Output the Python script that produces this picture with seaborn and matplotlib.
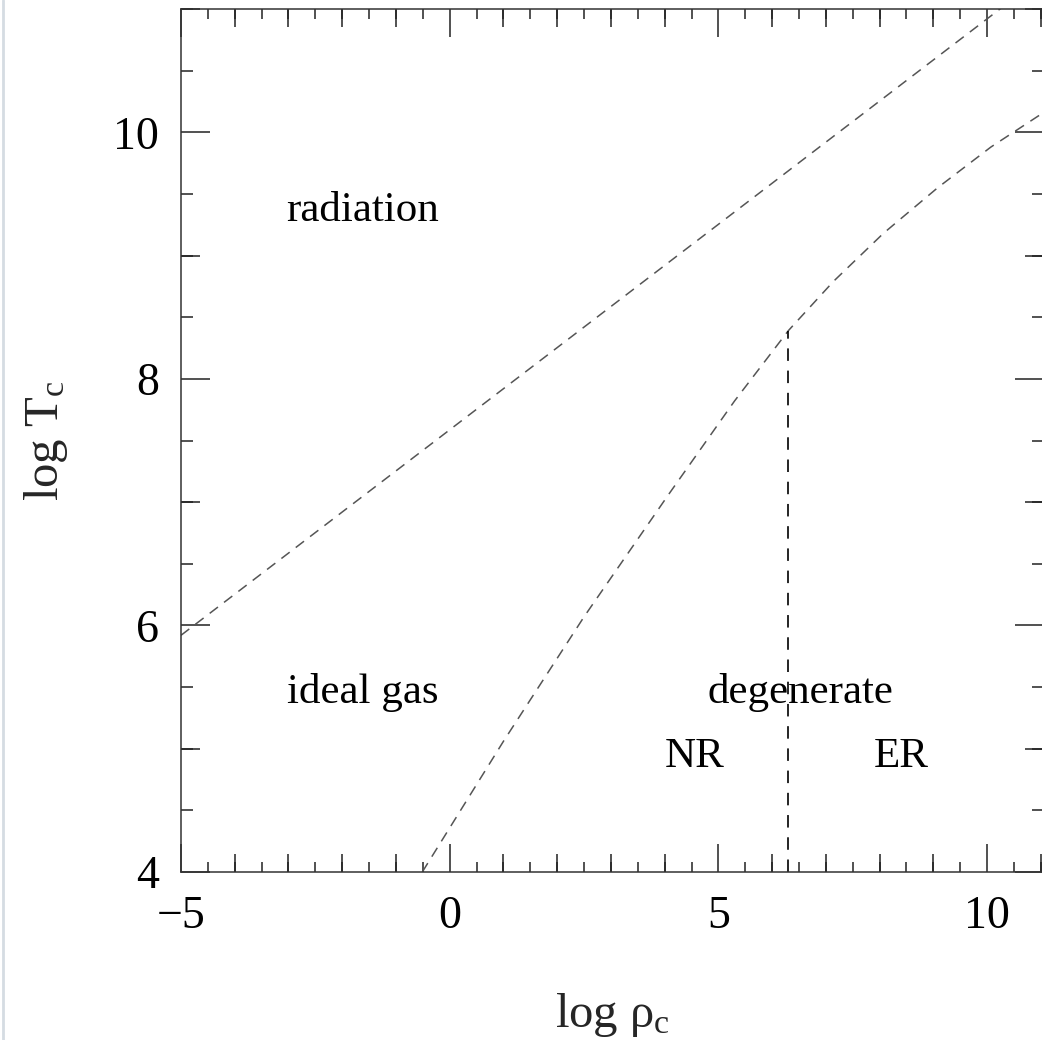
import matplotlib
matplotlib.use("Agg")
import matplotlib.pyplot as plt
from matplotlib.ticker import FixedLocator, MultipleLocator, NullFormatter
from matplotlib.lines import Line2D
import seaborn as sns

# Boundary between radiation- and gas-pressure domination (T^3 ~ rho)
rad_logrho = [-5.0, 11.05]
rad_logT = [5.92, 11.27]

# Boundary between ideal gas and degenerate electrons
deg_logrho = [-0.51, 1.0, 2.5, 4.07, 5.3, 6.30, 7.14, 8.07, 9.08, 10.07, 11.05]
deg_logT = [4.0, 5.06, 6.07, 7.06, 7.82, 8.39, 8.79, 9.18, 9.55, 9.88, 10.16]

# Split between non-relativistic and extremely relativistic degeneracy
nr_er_logrho = [6.30, 6.30]
nr_er_logT = [4.0, 8.39]

region_labels = ["radiation", "ideal gas", "degenerate", "NR", "ER"]
label_logrho = [-3.05, -3.03, 4.80, 4.00, 7.90]
label_logT = [9.28, 5.37, 5.37, 4.85, 4.85]

x_major = [-5, 0, 5, 10]
y_major = [4, 6, 8, 10]
x_mid = [v for v in range(-5, 12) if v % 5 != 0]
y_mid = [5, 7, 9, 11]

sns.set_theme(style="ticks")
plt.rcParams["font.family"] = ["Liberation Serif", "DejaVu Serif"]
plt.rcParams["mathtext.fontset"] = "custom"
plt.rcParams["mathtext.rm"] = "Liberation Serif"
plt.rcParams["mathtext.it"] = "Liberation Serif:italic"
plt.rcParams["lines.scale_dashes"] = False

fig = plt.figure(figsize=(10.42, 10.40), dpi=100)
ax = fig.add_axes([181 / 1042, 168 / 1040, (1043.5 - 181) / 1042, (872 - 9) / 1040])

gray = "#555555"
sns.lineplot(x=rad_logrho, y=rad_logT, ax=ax, color=gray, lw=1.1,
             estimator=None, sort=False)
sns.lineplot(x=deg_logrho, y=deg_logT, ax=ax, color=gray, lw=1.1,
             estimator=None, sort=False)
sns.lineplot(x=nr_er_logrho, y=nr_er_logT, ax=ax, color="black", lw=1.2,
             estimator=None, sort=False)
for ln in ax.lines[:2]:
    ln.set_dashes((7.5, 5.5))
ax.lines[2].set_dashes((9, 7))

for txt, xv, yv in zip(region_labels, label_logrho, label_logT):
    ax.text(xv, yv, txt, fontsize=31, ha="left", va="baseline", color="black")

ax.set_xlim(-5, 11.05)
ax.set_ylim(4, 11)

ax.xaxis.set_major_locator(FixedLocator(x_major))
ax.xaxis.set_minor_locator(MultipleLocator(0.5))
ax.yaxis.set_major_locator(FixedLocator(y_major))
ax.yaxis.set_minor_locator(MultipleLocator(0.5))

tick_col = "#222222"
ax.tick_params(which="both", direction="in", top=True, right=True,
               width=1.1, color=tick_col, labelsize=33, labelcolor="black")
ax.tick_params(axis="x", which="major", length=20.5, pad=17)
ax.tick_params(axis="x", which="minor", length=7.5)
ax.tick_params(axis="y", which="major", length=21, pad=16)
ax.tick_params(axis="y", which="minor", length=8.5)

for sp in ax.spines.values():
    sp.set_linewidth(1.1)
    sp.set_color("#333333")

# medium-length ticks on whole units
for loc in ("bottom", "top"):
    sec = ax.secondary_xaxis(loc)
    sec.xaxis.set_major_locator(FixedLocator(x_mid))
    sec.xaxis.set_major_formatter(NullFormatter())
    sec.tick_params(direction="in", length=13, width=1.1, color=tick_col)
    for sp in sec.spines.values():
        sp.set_visible(False)
for loc in ("left", "right"):
    sec = ax.secondary_yaxis(loc)
    sec.yaxis.set_major_locator(FixedLocator(y_mid))
    sec.yaxis.set_major_formatter(NullFormatter())
    sec.tick_params(direction="in", length=14, width=1.1, color=tick_col)
    for sp in sec.spines.values():
        sp.set_visible(False)

ax.set_xlabel(r"log ρ$_\mathrm{c}$", fontsize=35, labelpad=38)
ax.set_ylabel(r"log T$_\mathrm{c}$", fontsize=35, labelpad=31)

fig.add_artist(Line2D([0.0025, 0.0025], [0, 1], transform=fig.transFigure,
                      color="#d5dce2", lw=2))

fig.savefig("out.png", dpi=100)
